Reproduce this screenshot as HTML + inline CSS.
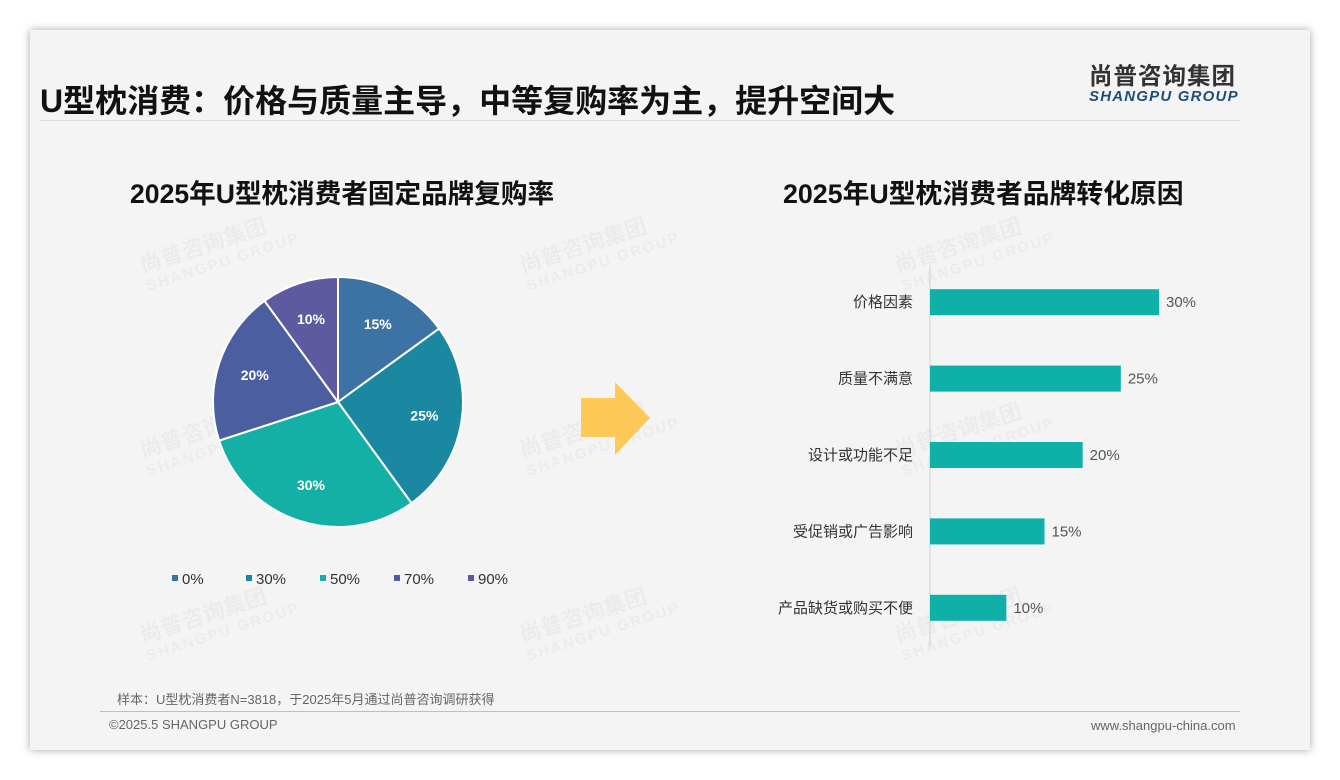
<!DOCTYPE html>
<html><head><meta charset="utf-8">
<style>
body{margin:0;width:1340px;height:780px;background:#fff;position:relative;overflow:hidden;font-family:"Liberation Sans","Noto Sans CJK SC",sans-serif;}
.card{position:absolute;left:30px;top:30px;width:1280px;height:720px;background:#f4f4f4;box-shadow:0 0 8px rgba(0,0,0,0.35);}
.abs{position:absolute;white-space:nowrap;}
.wm{position:absolute;color:rgba(0,0,0,0.035);font-weight:bold;transform:rotate(-18deg);font-size:22px;line-height:22px;}
.wm span{display:block;font-size:15px;letter-spacing:2px;}
</style></head><body>
<div class="card"></div>
<div class="abs" style="left:40px;top:76px;font-size:32px;font-weight:bold;color:#111;">U型枕消费：价格与质量主导，中等复购率为主，提升空间大</div>
<div class="abs" style="left:1089px;top:57px;font-size:23.5px;font-weight:bold;color:#333;letter-spacing:1px;">尚普咨询集团</div>
<div class="abs" style="left:1089px;top:88px;font-size:15px;font-weight:bold;font-style:italic;color:#1f4e79;letter-spacing:1.2px;">SHANGPU GROUP</div>
<div class="abs" style="left:40px;top:120px;width:1200px;height:1px;background:#ddd;"></div>

<div id="wms"></div>

<div class="abs" style="left:130px;top:172px;font-size:26.6px;font-weight:bold;color:#111;">2025年U型枕消费者固定品牌复购率</div>
<div class="abs" style="left:783px;top:172px;font-size:26.8px;font-weight:bold;color:#111;">2025年U型枕消费者品牌转化原因</div>

<svg class="abs" style="left:0;top:0" width="1340" height="780" id="chart">
<polygon points="581,398 615,398 615,382 650,418 615,455 615,437 581,437" fill="#ffc95a"/>
</svg>

<div class="abs" style="left:117px;top:689px;font-size:13px;color:#666;">样本：U型枕消费者N=3818，于2025年5月通过尚普咨询调研获得</div>
<div class="abs" style="left:100px;top:711px;width:1140px;height:1px;background:#a9c4dc;"></div>
<div class="abs" style="left:109px;top:717px;font-size:13px;color:#666;">©2025.5 SHANGPU GROUP</div>
<div class="abs" style="left:1091px;top:718px;font-size:13px;color:#666;">www.shangpu-china.com</div>

<script>
const pieLabels=["0%","30%","50%","70%","90%"];
const pieValues=[15,25,30,20,10];
const pieColors=["#3d72a4","#1a88a0","#14b0a5","#4b5fa0","#5e5aa0"];
const barCats=["价格因素","质量不满意","设计或功能不足","受促销或广告影响","产品缺货或购买不便"];
const barValues=[30,25,20,15,10];

const NS="http://www.w3.org/2000/svg";
const svg=document.getElementById('chart');
function mk(t,a){const e=document.createElementNS(NS,t);for(const k in a)e.setAttribute(k,a[k]);svg.appendChild(e);return e;}

const wmPos=[[140,230],[520,230],[895,230],[140,415],[520,415],[895,415],[140,600],[520,600],[895,600]];
const wms=document.getElementById('wms');
wmPos.forEach(p=>{const d=document.createElement('div');d.className='wm';d.style.left=p[0]+'px';d.style.top=p[1]+'px';d.innerHTML='尚普咨询集团<span>SHANGPU GROUP</span>';


wms.appendChild(d);});

const pcx=338,pcy=402,pr=125;
const pieTotal=pieValues.reduce((a,b)=>a+b,0);
let pieAng=0;
pieValues.forEach((v,i)=>{
  const a0=pieAng, a1=pieAng+v/pieTotal*2*Math.PI; pieAng=a1;
  const sx=pcx+pr*Math.sin(a0),sy=pcy-pr*Math.cos(a0),ex=pcx+pr*Math.sin(a1),ey=pcy-pr*Math.cos(a1);
  const p=mk('path',{d:`M${pcx},${pcy}L${sx},${sy}A${pr},${pr} 0 ${a1-a0>Math.PI?1:0} 1 ${ex},${ey}Z`,fill:pieColors[i],stroke:'#fff','stroke-width':2});
  
  
  const am=(a0+a1)/2, lr=pr*0.7;
  const t=mk('text',{x:pcx+lr*Math.sin(am),y:pcy-lr*Math.cos(am)+5,'text-anchor':'middle','font-size':14,'font-weight':'bold',fill:'#fff'});
  t.textContent=v+'%';
  
  
});
pieLabels.forEach((l,i)=>{
  const lx=172+i*74;
  const s=mk('rect',{x:lx,y:575,width:6,height:6,fill:pieColors[i]});
  
  
  const t=mk('text',{x:lx+10,y:584,'font-size':15,fill:'#333'});
  t.textContent=l;
  
  
});

const bx0=930, bScale=229/30, bTop=265, bBottom=647;
const band=(bBottom-bTop)/barCats.length;
const ax=mk('line',{x1:bx0,y1:bTop,x2:bx0,y2:bBottom,stroke:'#d0d0d0','stroke-width':1});


barCats.forEach((c,i)=>{
  const yc=bTop+band*(i+0.5)-1;
  const w=barValues[i]*bScale;
  const b=mk('rect',{x:bx0,y:yc-13,width:w,height:26,fill:'#0fb0a8'});
  
  
  const t=mk('text',{x:913,y:yc+5,'text-anchor':'end','font-size':15,fill:'#333'});
  t.textContent=c;
  
  
  const v=mk('text',{x:bx0+w+7,y:yc+5,'font-size':15,fill:'#555'});
  v.textContent=barValues[i]+'%';
  
  
});
</script>
</body></html>
